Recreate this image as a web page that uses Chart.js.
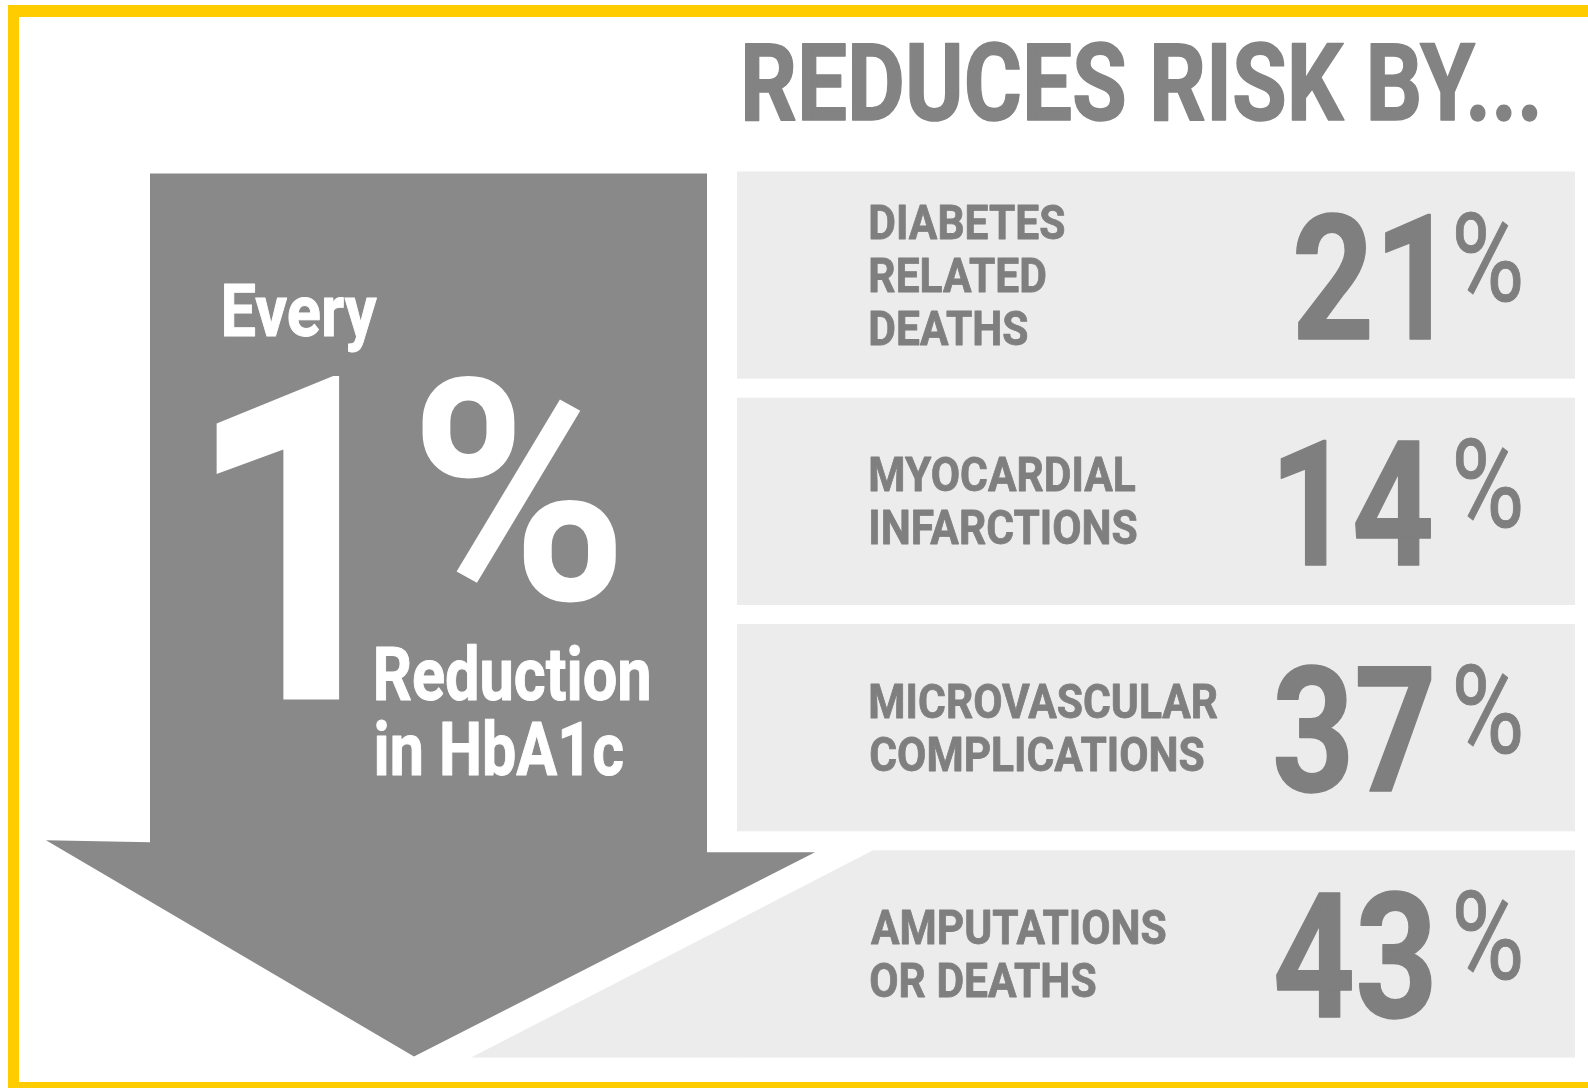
<!DOCTYPE html>
<html>
<head>
<meta charset="utf-8">
<title>Every 1% reduction in HbA1c</title>
<script src="https://cdn.jsdelivr.net/npm/chart.js@4.4.1/dist/chart.umd.min.js"></script>
<style>
  html, body { margin: 0; padding: 0; background: #fff; }
  canvas { display: block; }
</style>
</head>
<body>
<canvas id="riskChart" width="1588" height="1088"></canvas>
<script>
// data
const outcomes = [
  ['DIABETES', 'RELATED', 'DEATHS'],
  ['MYOCARDIAL', 'INFARCTIONS'],
  ['MICROVASCULAR', 'COMPLICATIONS'],
  ['AMPUTATIONS', 'OR DEATHS']
];
const riskReduction = [21, 14, 37, 43];
const headline = 'REDUCES RISK BY...';
const arrowWords = ['Every', '1', '%', 'Reduction', 'in HbA1c'];

const FONT = 'Roboto, "Liberation Sans", sans-serif';
const panelGrey = '#ececec';
const arrowGrey = '#898989';
const textGrey = '#7f7f7f';

// font size so that ref string ink height = h
function sizeFor(ctx, ref, h, weight) {
  ctx.font = weight + ' 100px ' + FONT;
  const m = ctx.measureText(ref);
  return 100 * h / (m.actualBoundingBoxAscent + m.actualBoundingBoxDescent);
}

function inkWidth(ctx, str) {
  const m = ctx.measureText(str);
  return m.actualBoundingBoxLeft + m.actualBoundingBoxRight;
}

// draw str so its ink sits in the box, squeezed horizontally (condensed look)
function fitText(ctx, str, box, o) {
  const weight = o.weight || 'bold';
  const ref = o.ref || str;
  const size = o.size || sizeFor(ctx, ref, box.bottom - box.top, weight);
  ctx.font = weight + ' ' + size + 'px ' + FONT;
  const r = ctx.measureText(ref);
  const m = ctx.measureText(str);
  const sx = o.scaleX || (box.right - box.left) / inkWidth(ctx, str);
  const baseline = box.top + r.actualBoundingBoxAscent;
  const ax = o.alignRight
    ? box.right - sx * m.actualBoundingBoxRight
    : box.left + sx * m.actualBoundingBoxLeft;
  ctx.save();
  ctx.textAlign = 'left';
  ctx.textBaseline = 'alphabetic';
  ctx.fillStyle = o.color;
  ctx.translate(ax, baseline);
  ctx.scale(sx, 1);
  ctx.fillText(str, 0, 0);
  if (o.stroke) {
    // thicken vertical stems lost by the squeeze
    ctx.strokeStyle = o.color;
    ctx.lineWidth = o.stroke;
    ctx.lineJoin = 'round';
    ctx.strokeText(str, 0, 0);
  }
  ctx.restore();
}

function poly(ctx, pts, color) {
  ctx.beginPath();
  ctx.moveTo(pts[0][0], pts[0][1]);
  for (let i = 1; i < pts.length; i++) ctx.lineTo(pts[i][0], pts[i][1]);
  ctx.closePath();
  ctx.fillStyle = color;
  ctx.fill();
}

// white page + yellow frame
const frame = {
  id: 'frame',
  beforeDraw(chart) {
    const ctx = chart.ctx;
    ctx.save();
    ctx.fillStyle = '#fff';
    ctx.fillRect(0, 0, chart.width, chart.height);
    ctx.fillStyle = '#ffcc00';
    ctx.fillRect(8, 5, chart.width - 8, 12);
    ctx.fillRect(8, 5, 11, chart.height - 5);
    ctx.fillRect(8, chart.height - 6, chart.width - 8, 6);
    ctx.restore();
  }
};

const infographic = {
  id: 'infographic',
  afterDatasetsDraw(chart) {
    const ctx = chart.ctx;
    const bars = chart.getDatasetMeta(0).data.map(b => b.getProps(['x', 'y', 'base', 'height'], true));
    ctx.save();

    // last panel: left edge follows the arrow head
    const last = bars[bars.length - 1];
    const top = last.y - last.height / 2, bottom = last.y + last.height / 2;
    const xTop = 875, xBot = 471;
    const cross = top + (xTop - last.base) / (xTop - xBot) * (bottom - top);
    poly(ctx, [[last.base - 1, top - 1], [xTop, top - 1], [last.base - 1, cross]], '#fff');
    poly(ctx, [[last.base + 0.5, cross - 0.5], [last.base + 0.5, bottom], [xBot, bottom]], panelGrey);

    // arrow
    const aTop = bars[0].y - bars[0].height / 2 + 2;
    poly(ctx, [
      [150, aTop], [707, aTop], [707, top + 2], [815, top + 2],
      [414, bottom - 1], [46, top - 10], [150, top - 8]
    ], arrowGrey);

    // arrow text
    fitText(ctx, arrowWords[0], {left: 224, right: 377, top: 284, bottom: 336}, {ref: 'E', color: '#fff', stroke: 1});
    fitText(ctx, arrowWords[1], {left: 215, right: 345, top: 373, bottom: 700}, {color: '#fff'});
    fitText(ctx, arrowWords[2], {left: 418, right: 618, top: 372, bottom: 598}, {color: '#fff'});
    fitText(ctx, arrowWords[3], {left: 376, right: 649, top: 647, bottom: 700}, {ref: 'R', color: '#fff', stroke: 1});
    fitText(ctx, arrowWords[4], {left: 376, right: 623, top: 722, bottom: 775}, {ref: 'H', color: '#fff', stroke: 1});

    // headline
    fitText(ctx, headline, {left: 745, right: 1537, top: 43, bottom: 120}, {ref: 'R', color: '#838383', stroke: 1.5});

    // panel labels, one squeeze for all
    const capH = 35, pitch = 53;
    const lblSize = sizeFor(ctx, 'H', capH, 'bold');
    ctx.font = 'bold ' + lblSize + 'px ' + FONT;
    const lblSx = 347 / inkWidth(ctx, 'MICROVASCULAR');
    // numbers, one squeeze for all
    const numH = 129;
    const numSize = sizeFor(ctx, '37', numH, 'bold');
    ctx.font = 'bold ' + numSize + 'px ' + FONT;
    const numSx = 155 / inkWidth(ctx, '37');

    bars.forEach((b, i) => {
      const lines = outcomes[i];
      const blockTop = b.y - (capH + (lines.length - 1) * pitch) / 2;
      lines.forEach((ln, k) => {
        const t = blockTop + k * pitch;
        fitText(ctx, ln, {left: 871, right: 1200, top: t, bottom: t + capH},
          {ref: 'H', size: lblSize, scaleX: lblSx, color: textGrey, stroke: 0.8});
      });
      const nTop = b.y - numH / 2 + 2;
      fitText(ctx, String(riskReduction[i]), {left: 1276, right: 1431, top: nTop, bottom: nTop + numH},
        {ref: '37', size: numSize, scaleX: numSx, alignRight: true, color: textGrey, stroke: 1.5});
      fitText(ctx, '%', {left: 1456, right: 1520, top: nTop - 1, bottom: nTop + 89},
        {weight: 'normal', color: textGrey, stroke: 1});
    });

    ctx.restore();
  }
};

const config = {
  type: 'bar',
  data: {
    labels: outcomes,
    datasets: [{
      label: 'Reduces risk by',
      data: outcomes.map(() => 1),
      backgroundColor: panelGrey,
      borderWidth: 0,
      barPercentage: 0.916,
      categoryPercentage: 1
    }]
  },
  options: {
    indexAxis: 'y',
    responsive: false,
    animation: false,
    devicePixelRatio: 1,
    layout: { padding: { left: 737, right: 13, top: 162, bottom: 21 } },
    scales: {
      x: { min: 0, max: 1, display: false },
      y: { display: false }
    },
    plugins: {
      legend: { display: false },
      tooltip: { enabled: false }
    }
  },
  plugins: [frame, infographic]
};

const riskChart = new Chart(document.getElementById('riskChart'), config);
</script>
</body>
</html>
